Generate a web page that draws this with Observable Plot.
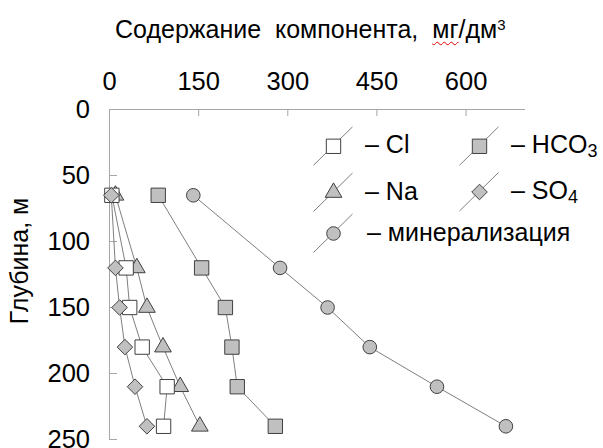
<!DOCTYPE html>
<html><head><meta charset="utf-8">
<script src="https://cdn.jsdelivr.net/npm/d3@7"></script>
<script src="https://cdn.jsdelivr.net/npm/@observablehq/plot@0.6"></script>
<style>
body{margin:0;background:#fff;}
#wrap{position:relative;width:603px;height:448px;overflow:hidden;font-family:"Liberation Sans",Arial,sans-serif;background:#fff;}
#title{position:absolute;left:115px;top:16.8px;font-size:25px;line-height:1;white-space:pre;color:#000;}
#title .sp{text-decoration:underline wavy #e00000;text-decoration-thickness:1px;text-underline-offset:3px;}
#title sup{font-size:15px;vertical-align:baseline;position:relative;top:-8px;}
#legend{position:absolute;left:0;top:0;pointer-events:none;}
</style></head><body>
<div id="wrap"><div id="chart"></div><div id="title">Содержание  компонента,  <span class="sp">мг</span>/дм<sup>3</sup></div></div>
<script>
// ---- data ----
const depth   = [65, 120, 150, 180, 210, 240];
const cl      = [4, 28, 34, 55, 97, 91];
const na      = [10, 46, 63, 90, 119, 152];
const so4     = [3, 10, 17, 26, 43, 63];
const hco3    = [82, 155, 195, 206, 215, 279];
const mineral = [141, 287, 367, 438, 551, 667];
const xTicks  = [0, 150, 300, 450, 600];
const yTicks  = [0, 50, 100, 150, 200, 250];
const seriesKeys   = ["Cl", "Na", "HCO3", "SO4", "минерализация"];
const legendLabels = [["– Cl"], ["– Na"], ["– HCO", "3"], ["– SO", "4"], ["– минерализация"]];
const xTitle = "Содержание компонента, мг/дм³";
const yTitle = "Глубина, м";

// ---- styles ----
const axisColor = "#a6a6a6", lineColor = "#7f7f7f", markStroke = "#404040", grey = "#c0c0c0";
const styles = {
  "Cl":            {values: cl,      symbol: "square",   fill: "#ffffff", r: 8.1},
  "Na":            {values: na,      symbol: "triangle", fill: grey,      r: 6.2},
  "HCO3":          {values: hco3,    symbol: "square",   fill: grey,      r: 8.1},
  "SO4":           {values: so4,     symbol: "diamond2", fill: grey,      r: 7.0},
  "минерализация": {values: mineral, symbol: "circle",   fill: grey,      r: 6.8}
};
const rows = seriesKeys.flatMap(k => depth.map((d, i) => ({series: k, depth: d, value: styles[k].values[i]})));

const W = 603, H = 448, mL = 109, mT = 109, mR = 78, mB = 9;
const plotW = W - mL - mR, plotH = H - mT - mB;
const font = "Liberation Sans, Arial, sans-serif";
const tickFont = 25.5;

const drawOrder = ["Na", "Cl", "HCO3", "SO4", "минерализация"];
const chart = Plot.plot({
  width: W, height: H,
  marginLeft: mL, marginTop: mT, marginRight: mR, marginBottom: mB,
  x: {domain: [0, 700]},
  y: {domain: [0, 250], reverse: true},
  style: {fontFamily: font, fontSize: tickFont + "px", color: "#000", background: "#fff", overflow: "visible"},
  marks: [
    Plot.ruleX([0], {stroke: axisColor}),
    Plot.ruleY([0], {stroke: axisColor}),
    Plot.tickX(xTicks, {x: d => d, stroke: axisColor, insetBottom: plotH - 7}),
    Plot.tickY(yTicks, {y: d => d, stroke: axisColor, insetRight: plotW - 8}),
    Plot.axisX(xTicks, {anchor: "top", tickSize: 0, tickPadding: 19.5, fontSize: tickFont, label: null}),
    Plot.axisY(yTicks, {anchor: "left", tickSize: 0, tickPadding: 19.5, fontSize: tickFont, label: null}),
    Plot.text([yTitle], {text: d => d, frameAnchor: "left", rotate: -90, dx: -99, dy: -13.5,
      textAnchor: "middle", lineAnchor: "top", fontSize: 25}),
    ...seriesKeys.map(k => Plot.line(rows.filter(r => r.series === k),
      {x: "value", y: "depth", stroke: lineColor, strokeWidth: 1})),
    ...drawOrder.map(k => Plot.dot(rows.filter(r => r.series === k),
      {x: "value", y: "depth", symbol: styles[k].symbol, r: styles[k].r,
       fill: styles[k].fill, stroke: markStroke, strokeWidth: 1}))
  ]
});
document.getElementById("chart").appendChild(chart);

// ---- legend (overlay) ----
const legendPos = [
  {x: 333.5, y: 146.3, tx: 365},
  {x: 333.5, y: 192.5, tx: 365},
  {x: 479.5, y: 146.3, tx: 511},
  {x: 479.5, y: 192.0, tx: 511},
  {x: 333.5, y: 233.5, tx: 367}
];
const symMap = {square: d3.symbolSquare, triangle: d3.symbolTriangle, diamond2: d3.symbolDiamond2, circle: d3.symbolCircle};
const svg = d3.select("#wrap").append("svg").attr("id", "legend").attr("width", W).attr("height", H)
  .style("font-family", font);
seriesKeys.forEach((k, i) => {
  const p = legendPos[i], s = styles[k];
  const g = svg.append("g").attr("transform", `translate(${p.x},${p.y})`);
  g.append("line").attr("x1", -20).attr("y1", 19).attr("x2", 19).attr("y2", -19.5)
    .attr("stroke", lineColor).attr("stroke-width", 1);
  g.append("path").attr("d", d3.symbol(symMap[s.symbol], Math.PI * s.r * s.r)())
    .attr("fill", s.fill).attr("stroke", markStroke).attr("stroke-width", 1);
  const t = svg.append("text").attr("x", p.tx).attr("y", p.y + 7).attr("font-size", 25).attr("fill", "#000");
  const lab = legendLabels[i];
  t.append("tspan").text(lab[0]);
  if (lab[1]) t.append("tspan").attr("font-size", 18).attr("dy", 3.5).text(lab[1]);
});
</script>
</body></html>
